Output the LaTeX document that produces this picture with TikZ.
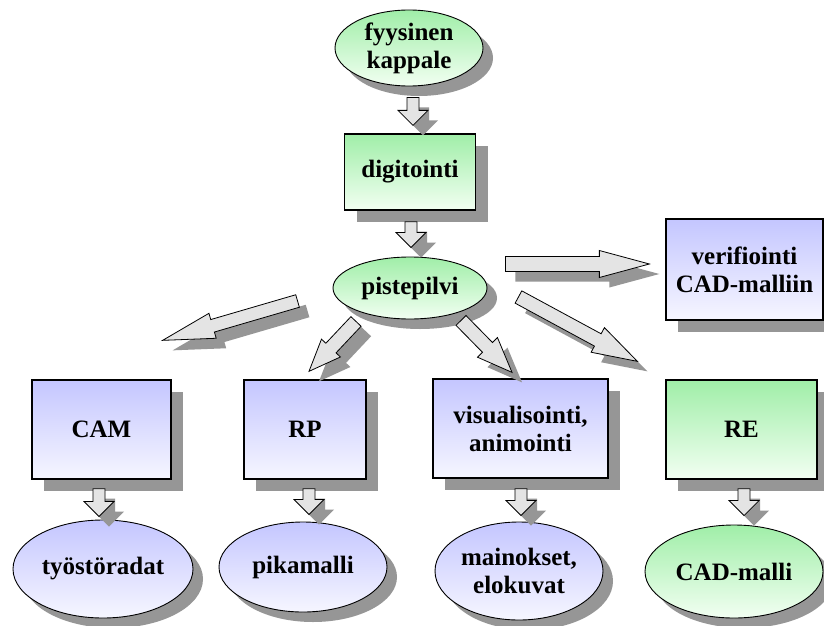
\documentclass[tikz,border=0pt]{standalone}
\usepackage{fontspec}
\setmainfont{Liberation Serif}
\usepackage{xcolor}
\usepackage{tikz}
\usetikzlibrary{positioning,calc,shapes.geometric,shadows}

\definecolor{grntop}{RGB}{160,238,168}
\definecolor{grnbot}{RGB}{242,255,242}
\definecolor{blutop}{RGB}{196,198,255}
\definecolor{blubot}{RGB}{246,246,255}
\definecolor{arrfill}{RGB}{228,228,228}
\definecolor{shadowgray}{RGB}{150,150,150}

\tikzset{
  box/.style={rectangle, draw=black, line width=1.3pt, inner sep=0pt, align=center,
    font=\bfseries\fontsize{25}{28}\selectfont,
    drop shadow={shadow xshift=12pt, shadow yshift=-12pt, fill=shadowgray, opacity=1}},
  oval/.style={ellipse, draw=black, line width=0.9pt, inner sep=0pt, align=center,
    font=\bfseries\fontsize{25}{28}\selectfont,
    drop shadow={shadow xshift=10pt, shadow yshift=-10pt, fill=shadowgray, opacity=1}},
  grn/.style={top color=grntop, bottom color=grnbot},
  blu/.style={top color=blutop, bottom color=blubot},
  fatarr/.style={fill=arrfill, draw=black, line width=0.8pt,
    drop shadow={shadow xshift=10pt, shadow yshift=-10pt, fill=shadowgray, opacity=1}}
}

% start, end, half shaft, half head, head length
\newcommand{\fatarrow}[5]{
  \coordinate (fa-s) at #1;
  \coordinate (fa-e) at #2;
  \coordinate (fa-m) at ($(fa-e)!#5!(fa-s)$);
  \draw[fatarr] ($(fa-s)!#3!90:(fa-e)$) -- ($(fa-m)!#3!90:(fa-e)$) -- ($(fa-m)!#4!90:(fa-e)$)
    -- (fa-e) -- ($(fa-m)!#4!-90:(fa-e)$) -- ($(fa-m)!#3!-90:(fa-e)$) -- ($(fa-s)!#3!-90:(fa-e)$) -- cycle;
}

\begin{document}
\begin{tikzpicture}[x=1pt, y=-1pt]
  \fill[white] (0,0) rectangle (824,626);
  \useasboundingbox (0,0) rectangle (824,626);

  \node[oval, grn, minimum width=148, minimum height=76] (fyys) at (409,48) {fyysinen\\kappale};
  \node[box, grn, minimum width=131, minimum height=76] (digit) at (410,172) {digitointi};
  \node[oval, grn, minimum width=154, minimum height=62] (pist) at (410,288) {pistepilvi};
  \node[box, blu, minimum width=157, minimum height=101] (verif) at (744.5,269.5) {verifiointi\\CAD-malliin};

  \node[box, blu, minimum width=139, minimum height=99] (cam) at (101.5,429.5) {CAM};
  \node[box, blu, minimum width=122, minimum height=99] (rp) at (305,429.5) {RP};
  \node[box, blu, minimum width=175, minimum height=99] (vis) at (520.5,428.5) {visualisointi,\\animointi};
  \node[box, grn, minimum width=151, minimum height=99] (re) at (741.5,429.5) {RE};

  \node[oval, blu, minimum width=180, minimum height=98] (tyos) at (103,569) {työstöradat};
  \node[oval, blu, minimum width=168, minimum height=90] (pika) at (303,567) {pikamalli};
  \node[oval, blu, minimum width=168, minimum height=98] (main) at (519,571) {mainokset,\\elokuvat};
  \node[oval, grn, minimum width=178, minimum height=93] (cadm) at (734,571.5) {CAD-malli};

  \fatarrow{($(fyys.south)+(4,11)$)}{($(digit.north)+(3,-8)$)}{6pt}{15pt}{15pt}
  \fatarrow{($(digit.south)+(1,11)$)}{($(pist.north)+(1,-9)$)}{6pt}{15pt}{15pt}
  \fatarrow{($(pist.east)+(18,-24)$)}{($(verif.west)+(-16,-5.5)$)}{7.5pt}{13.5pt}{50pt}
  \fatarrow{($(pist.west)+(-35,13)$)}{($(cam.north east)+(-9,-39)$)}{6.5pt}{13pt}{52pt}
  \fatarrow{($(pist.south)+(-54,2)$)}{($(rp.north)+(4,-8)$)}{7pt}{13pt}{32pt}
  \fatarrow{($(pist.south)+(51,1)$)}{($(vis.north)+(-8.5,-6)$)}{7pt}{14pt}{35pt}
  \fatarrow{($(pist.east)+(31,9)$)}{($(re.north west)+(-28,-18)$)}{7pt}{14pt}{45pt}
  \fatarrow{($(cam.south)+(-2.5,9)$)}{($(tyos.north)+(-4,-3)$)}{6pt}{15pt}{15pt}
  \fatarrow{($(rp.south)+(4,9)$)}{($(pika.north)+(6,-7)$)}{6pt}{15pt}{15pt}
  \fatarrow{($(vis.south)+(0.5,10)$)}{($(main.north)+(2,-6)$)}{6pt}{15pt}{15pt}
  \fatarrow{($(re.south)+(2.5,9)$)}{($(cadm.north)+(10,-9)$)}{6pt}{15pt}{15pt}
\end{tikzpicture}
\end{document}
